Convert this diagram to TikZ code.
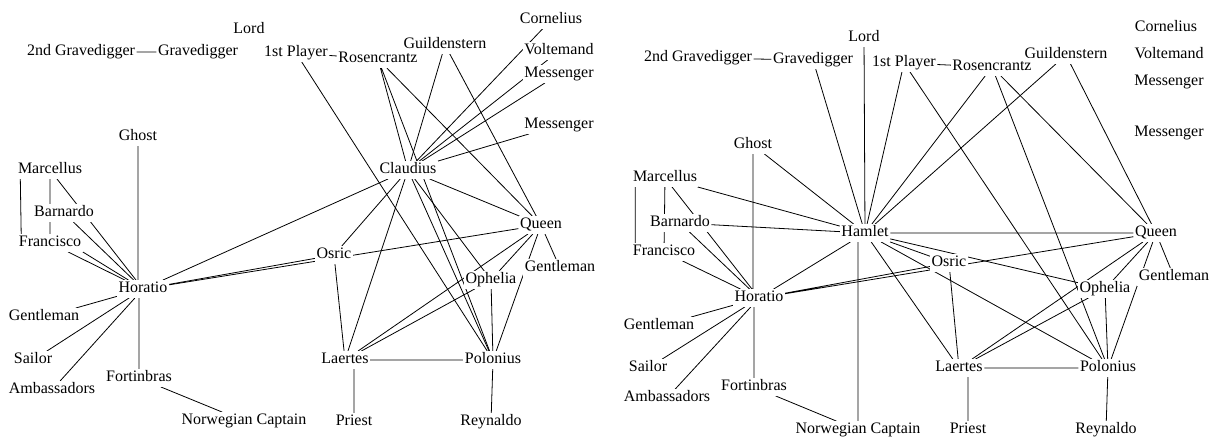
\documentclass[tikz,border=0pt]{standalone}
\usepackage{fontspec}
\setmainfont{Liberation Serif}
\usetikzlibrary{backgrounds}

\tikzset{
  role/.style={fill=white, inner sep=1.5pt, text height=11pt, text depth=3.5pt,
    font=\fontsize{16}{18}\selectfont},
  tie/.style={line width=0.8pt}
}

\begin{document}
\begin{tikzpicture}[x=1pt, y=-1pt]
\useasboundingbox (0,0) rectangle (1215,437);

% left network, no Hamlet
\node[role] (lgravetwo) at (81,52) {2nd Gravedigger};
\node[role] (lgrave) at (198,52) {Gravedigger};
\node[role] (llord) at (249,30) {Lord};
\node[role] (lplayer) at (296,53) {1st Player};
\node[role] (lguild) at (445,45) {Guildenstern};
\node[role] (lrosen) at (378,59) {Rosencrantz};
\node[role] (lcorn) at (551,20) {Cornelius};
\node[role] (lvolt) at (559,51) {Voltemand};
\node[role] (lmess) at (559,74) {Messenger};
\node[role] (lmesstwo) at (559,125) {Messenger};
\node[role] (lclaud) at (408,170) {Claudius};
\node[role] (lqueen) at (541,225) {Queen};
\node[role] (lgentq) at (560,268) {Gentleman};
\node[role] (loph) at (491,280) {Ophelia};
\node[role] (losric) at (334,255) {Osric};
\node[role] (llaert) at (345,360) {Laertes};
\node[role] (lpolon) at (493,360) {Polonius};
\node[role] (lpriest) at (354,422) {Priest};
\node[role] (lreyn) at (491,422) {Reynaldo};
\node[role] (lhor) at (143,289) {Horatio};
\node[role] (lghost) at (138,137) {Ghost};
\node[role] (lmarc) at (50,170) {Marcellus};
\node[role] (lbarn) at (64,213) {Barnardo};
\node[role] (lfran) at (50,243) {Francisco};
\node[role] (lgenth) at (44,317) {Gentleman};
\node[role] (lsailor) at (33,360) {Sailor};
\node[role] (lamb) at (52,390) {Ambassadors};
\node[role] (lfort) at (139,378) {Fortinbras};
\node[role] (lcapt) at (244,421) {Norwegian Captain};

% right network, no Claudius
\node[role] (rgravetwo) at (698,58) {2nd Gravedigger};
\node[role] (rgrave) at (813,60) {Gravedigger};
\node[role] (rlord) at (864,38) {Lord};
\node[role] (rplayer) at (904,63) {1st Player};
\node[role] (rguild) at (1066,55) {Guildenstern};
\node[role] (rrosen) at (992,67) {Rosencrantz};
\node[role] (rcorn) at (1166,28) {Cornelius};
\node[role] (rvolt) at (1169,55) {Voltemand};
\node[role] (rmess) at (1169,82) {Messenger};
\node[role] (rmesstwo) at (1169,133) {Messenger};
\node[role] (rghost) at (753,145) {Ghost};
\node[role] (rmarc) at (665,178) {Marcellus};
\node[role] (rbarn) at (680,223) {Barnardo};
\node[role] (rfran) at (664,252) {Francisco};
\node[role] (rham) at (865,233) {Hamlet};
\node[role] (rhor) at (759,298) {Horatio};
\node[role] (rgenth) at (659,326) {Gentleman};
\node[role] (rsailor) at (648,368) {Sailor};
\node[role] (ramb) at (667,398) {Ambassadors};
\node[role] (rfort) at (754,387) {Fortinbras};
\node[role] (rcapt) at (858,430) {Norwegian Captain};
\node[role] (rosric) at (949,263) {Osric};
\node[role] (rqueen) at (1156,233) {Queen};
\node[role] (rgentq) at (1174,277) {Gentleman};
\node[role] (roph) at (1105,289) {Ophelia};
\node[role] (rlaert) at (959,368) {Laertes};
\node[role] (rpolon) at (1108,368) {Polonius};
\node[role] (rpriest) at (968,430) {Priest};
\node[role] (rreyn) at (1106,430) {Reynaldo};

\begin{scope}[on background layer]
% left ties
\draw[tie] (lgravetwo) -- (lgrave) (lplayer) -- (lrosen) (lplayer) -- (lpolon);
\draw[tie] (lrosen) -- (lclaud) (lrosen) -- (lpolon) (lrosen) -- (lqueen);
\draw[tie] (lguild) -- (lclaud) (lguild) -- (lqueen);
\draw[tie] (lcorn) -- (lclaud) (lvolt) -- (lclaud) (lmess) -- (lclaud) (lmesstwo) -- (lclaud);
\draw[tie] (lclaud) -- (lhor) (lclaud) -- (losric) (lclaud) -- (llaert) (lclaud) -- (lpolon)
  (lclaud) -- (loph) (lclaud) -- (lqueen);
\draw[tie] (lqueen) -- (lhor) (lqueen) -- (llaert) (lqueen) -- (loph) (lqueen) -- (lpolon)
  (lqueen) -- (lgentq);
\draw[tie] (losric) -- (lhor) (losric) -- (llaert);
\draw[tie] (loph) -- (llaert) (loph) -- (lpolon) (llaert) -- (lpolon);
\draw[tie] (lpriest) -- (lpriest |- llaert.south) (lpolon) -- (lreyn);
\draw[tie] (lghost) -- (lghost |- lhor.north) (lhor) -- (lmarc) (lhor) -- (lbarn) (lhor) -- (lfran)
  (lfran.south east) -- (lhor);
\draw[tie] (lhor) -- (lgenth) (lhor) -- (lsailor) (lhor) -- (lamb) (lfort) -- (lfort |- lhor.south)
  (lfort) -- (lcapt);
\draw[tie] (lmarc) -- (lfran) ([xshift=4pt]lmarc.south west) -- ([xshift=4pt]lfran.north west);

% right ties
\draw[tie] (rgravetwo) -- (rgrave) (rplayer) -- (rrosen);
\draw[tie] (rham) -- (rgrave) (rham) -- (rlord) (rham) -- (rplayer) (rham) -- (rrosen)
  (rham) -- (rguild) (rham) -- (rghost) (rham) -- (rmarc) (rham) -- (rbarn);
\draw[tie] (rham) -- (rhor) (rcapt) -- (rcapt |- rham.south) (rham) -- (rqueen) (rham) -- (rosric)
  (rham) -- (roph) (rham) -- (rlaert) (rham) -- (rpolon);
\draw[tie] (rplayer) -- (rpolon) (rrosen) -- (rpolon) (rrosen) -- (rqueen) (rguild) -- (rqueen);
\draw[tie] (rghost) -- (rghost |- rhor.north) (rhor) -- (rmarc) (rhor) -- (rbarn) (rhor) -- (rfran);
\draw[tie] (rhor) -- (rgenth) (rhor) -- (rsailor) (rhor) -- (ramb) (rfort) -- (rfort |- rhor.south)
  (rfort) -- (rcapt);
\draw[tie] (rmarc) -- (rfran) ([xshift=4pt]rmarc.south west) -- ([xshift=4pt]rfran.north west);
\draw[tie] (rhor) -- (rosric) (rhor) -- (rqueen) (rosric) -- (rlaert);
\draw[tie] (rqueen) -- (rlaert) (rqueen) -- (roph) (rqueen) -- (rpolon) (rqueen) -- (rgentq);
\draw[tie] (roph) -- (rlaert) (roph) -- (rpolon) (rlaert) -- (rpolon);
\draw[tie] (rpriest) -- (rpriest |- rlaert.south) (rpolon) -- (rreyn);
\end{scope}
\end{tikzpicture}
\end{document}
